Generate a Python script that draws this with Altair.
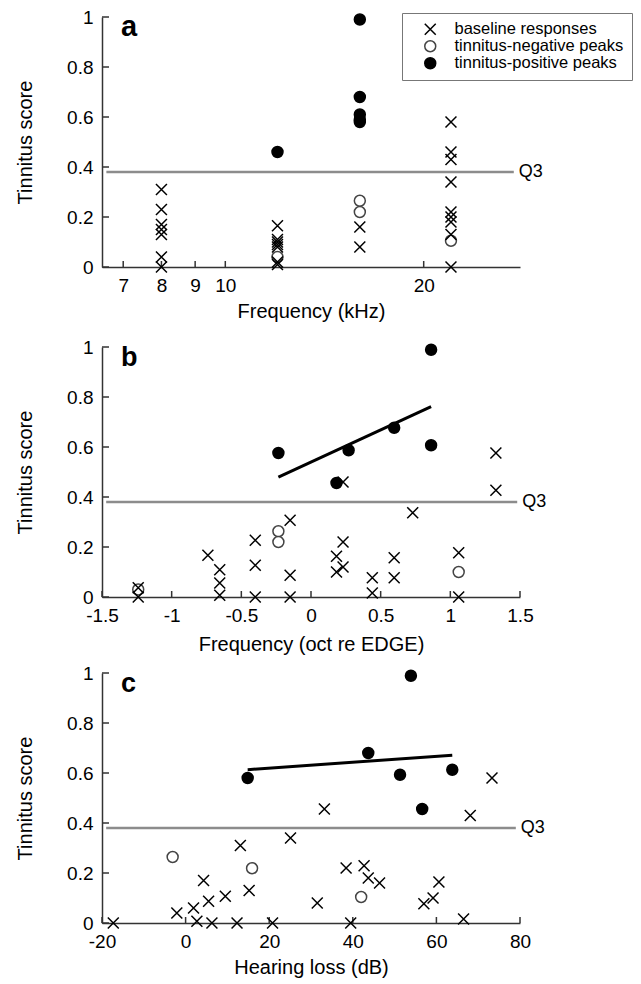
import altair as alt
import pandas as pd

FONT = "Liberation Sans"
GROUPS = ["baseline responses", "tinnitus-negative peaks", "tinnitus-positive peaks"]
CROSS = "M-1,-1L1,1M-1,1L1,-1"
Q3 = 0.38
W, H = 418, 250
AX = "#333333"

# ---------------- panel a : Frequency (kHz) ----------------
a_base_x = [8, 8, 8, 8, 8, 8, 8,
            12, 12, 12, 12, 12, 12, 12,
            16, 16,
            22, 22, 22, 22, 22, 22, 22, 22, 22]
a_base_y = [0.31, 0.23, 0.17, 0.15, 0.13, 0.04, 0.0,
            0.165, 0.11, 0.10, 0.09, 0.08, 0.02, 0.01,
            0.16, 0.08,
            0.58, 0.46, 0.43, 0.34, 0.22, 0.20, 0.18, 0.13, 0.0]
a_neg_x = [12, 16, 16, 22]
a_neg_y = [0.04, 0.265, 0.22, 0.105]
a_pos_x = [12, 16, 16, 16, 16, 16]
a_pos_y = [0.46, 0.99, 0.68, 0.61, 0.59, 0.58]
a_ticks = [7, 8, 9, 10, 20]
a_domain = [6.5, 28]
a_q3 = [6.6, 27.4]

# ---------------- panel b : Frequency (oct re EDGE) ----------------
b_base_x = [-1.24, -1.24, -0.74, -0.655, -0.655, -0.655, -0.40, -0.40, -0.40,
            -0.15, -0.15, -0.15, 0.183, 0.183, 0.23, 0.23, 0.23, 0.44, 0.44,
            0.597, 0.597, 0.73, 1.06, 1.06, 1.327, 1.327]
b_base_y = [0.037, 0.0, 0.167, 0.109, 0.056, 0.007, 0.227, 0.127, 0.0,
            0.307, 0.087, 0.0, 0.163, 0.10, 0.12, 0.22, 0.46, 0.077, 0.016,
            0.157, 0.077, 0.337, 0.177, 0.0, 0.576, 0.427]
b_neg_x = [-1.24, -0.234, -0.234, 1.06]
b_neg_y = [0.03, 0.263, 0.22, 0.10]
b_pos_x = [-0.234, 0.27, 0.183, 0.862, 0.597, 0.862]
b_pos_y = [0.576, 0.587, 0.456, 0.989, 0.677, 0.607]
b_ticks = [-1.5, -1, -0.5, 0, 0.5, 1, 1.5]
b_domain = [-1.5, 1.5]
b_q3 = [-1.47, 1.48]

# ---------------- panel c : Hearing loss (dB) ----------------
c_base_x = [-17.3, -2.1, 1.9, 2.7, 4.3, 5.5, 6.3, 9.5, 12.3, 13.1, 15.2, 20.8,
            25.1, 33.2, 31.5, 38.4, 39.5, 42.7, 43.7, 46.4, 60.6, 59.2, 57.0,
            66.5, 73.3, 68.1]
c_base_y = [0.0, 0.04, 0.06, 0.007, 0.17, 0.087, 0.0, 0.107, 0.0, 0.31, 0.13, 0.0,
            0.34, 0.456, 0.08, 0.22, 0.0, 0.229, 0.18, 0.16, 0.164, 0.10, 0.077,
            0.016, 0.58, 0.43]
c_neg_x = [-3.1, 15.9, 42.0]
c_neg_y = [0.264, 0.219, 0.104]
c_pos_x = [14.85, 53.9, 43.7, 51.3, 63.8, 56.6]
c_pos_y = [0.58, 0.989, 0.68, 0.593, 0.613, 0.456]
c_ticks = [-20, 0, 20, 40, 60, 80]
c_domain = [-20, 80]
c_q3 = [-19, 79]

y_ticks = [0, 0.2, 0.4, 0.6, 0.8, 1]


def make_panel(xb, yb, xn, yn, xp, yp, scale_type, domain, xticks, q3x,
               xtitle, letter, letter_size, fit, show_legend, xtitle_pad, title_lh):
    rows = []
    for x, y in zip(xn, yn):
        rows.append({"x": x, "y": y, "g": GROUPS[1], "o": 0})
    for x, y in zip(xb, yb):
        rows.append({"x": x, "y": y, "g": GROUPS[0], "o": 1})
    for x, y in zip(xp, yp):
        rows.append({"x": x, "y": y, "g": GROUPS[2], "o": 2})
    pts = pd.DataFrame(rows)

    xscale = alt.Scale(type=scale_type, domain=domain, nice=False, zero=False)
    yscale = alt.Scale(domain=[0, 1], nice=False)
    xaxis = alt.Axis(values=xticks, labelExpr="toString(datum.value)", title=xtitle,
                     labelPadding=9, titlePadding=xtitle_pad, labelFlush=False,
                     labelOverlap=False, titleLineHeight=title_lh)
    yaxis = alt.Axis(values=y_ticks, labelExpr="toString(datum.value)",
                     title="Tinnitus score", labelPadding=9, titlePadding=31,
                     labelFlush=False, labelOverlap=False)

    def X(f="x"):
        return alt.X(f + ":Q", scale=xscale, axis=xaxis)

    def Y(f="y"):
        return alt.Y(f + ":Q", scale=yscale, axis=yaxis)

    if show_legend:
        leg = alt.Legend(orient="none", legendX=300, legendY=-4, title=" ",
                         titleOrient="left", titleFont=FONT, titleFontSize=16,
                         titlePadding=12,
                         labelFont=FONT, labelFontSize=16.5, labelColor="black",
                         labelLimit=400,
                         symbolSize=120, symbolStrokeWidth=1.5, strokeColor="#777777",
                         fillColor="white", padding=8, rowPadding=-2,
                         labelOffset=16, cornerRadius=0)
    else:
        leg = None

    shape = alt.Shape("g:N", scale=alt.Scale(domain=GROUPS, range=[CROSS, "circle", "circle"]), legend=leg)
    fill = alt.Fill("g:N", scale=alt.Scale(domain=GROUPS, range=["transparent", "white", "black"]), legend=leg)
    stroke = alt.Stroke("g:N", scale=alt.Scale(domain=GROUPS, range=["black", "#444444", "black"]), legend=leg)

    q3df = pd.DataFrame({"x": [q3x[0]], "x2": [q3x[1]], "y": [Q3]})
    q3rule = alt.Chart(q3df).mark_rule(color="#8c8c8c", strokeWidth=2.5).encode(
        x=X(), x2="x2:Q", y=Y())
    q3text = alt.Chart(pd.DataFrame({"x": [q3x[1]], "y": [Q3], "t": ["Q3"]})).mark_text(
        align="left", baseline="middle", dx=5, font=FONT, fontSize=18, color="black"
    ).encode(x=X(), y=Y(), text="t:N")

    ytk = alt.Chart(pd.DataFrame({"y": y_ticks})).mark_rule(color=AX, strokeWidth=1.5).encode(
        y=Y(), x=alt.value(0), x2=alt.value(7))
    xtk = alt.Chart(pd.DataFrame({"x": xticks})).mark_rule(color=AX, strokeWidth=1.5).encode(
        x=X(), y=alt.value(H), y2=alt.value(H - 6))

    points = alt.Chart(pts).mark_point(opacity=1, fillOpacity=1, strokeWidth=1.5, size=120).encode(
        x=X(), y=Y(), shape=shape, fill=fill, stroke=stroke, order="o:Q")

    lab = alt.Chart(pd.DataFrame({"x": [domain[0]], "y": [1.0], "t": [letter]})).mark_text(
        align="left", baseline="alphabetic", dx=19, dy=19, font=FONT,
        fontSize=letter_size, fontWeight="bold", color="black"
    ).encode(x=X(), y=Y(), text="t:N")

    layers = [q3rule, ytk, xtk]
    if fit:
        reg = alt.Chart(pts).transform_filter(alt.datum.g == GROUPS[2]).transform_regression(
            "x", "y").mark_line(color="black", strokeWidth=3).encode(x=X(), y=Y())
        layers.append(reg)
    layers += [points, q3text, lab]
    return alt.layer(*layers).properties(width=W, height=H)


pa = make_panel(a_base_x, a_base_y, a_neg_x, a_neg_y, a_pos_x, a_pos_y, "log", a_domain,
                a_ticks, a_q3, ["Frequency (kHz)", " "], "a", 29, False, True, 6.5, 7)
pb = make_panel(b_base_x, b_base_y, b_neg_x, b_neg_y, b_pos_x, b_pos_y, "linear", b_domain,
                b_ticks, b_q3, "Frequency (oct re EDGE)", "b", 27, True, False, 9.5, 20)
pc = make_panel(c_base_x, c_base_y, c_neg_x, c_neg_y, c_pos_x, c_pos_y, "linear", c_domain,
                c_ticks, c_q3, "Hearing loss (dB)", "c", 27, True, False, 6.5, 20)

chart = alt.vconcat(pa, pb, pc, spacing=9).resolve_legend(
    shape="independent", fill="independent", stroke="independent"
).properties(
    padding={"left": 7, "top": 0, "right": 0, "bottom": 0}
).configure_view(stroke=None).configure_axis(
    domainColor=AX, domainWidth=1.5, ticks=False, grid=False,
    labelFont=FONT, labelFontSize=19, labelColor="black",
    titleFont=FONT, titleFontSize=20, titleFontWeight="normal", titleColor="black"
)

chart.save("out.html", embed_options={"renderer": "svg", "actions": False})
